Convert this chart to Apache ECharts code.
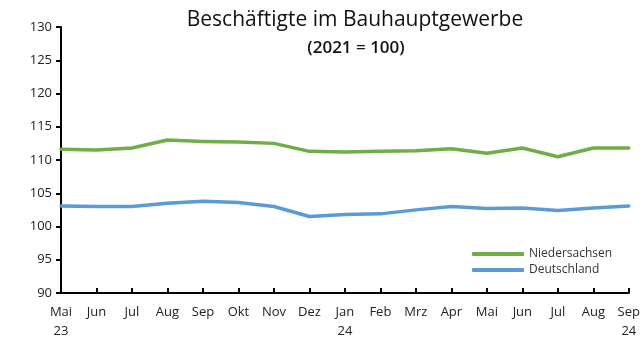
<!DOCTYPE html>
<html>
<head>
<meta charset="utf-8">
<script src="https://cdn.jsdelivr.net/npm/echarts@6/dist/echarts.min.js"></script>
<style>
  html, body { margin: 0; padding: 0; background: #fff; }
  #chart { width: 643px; height: 342px; }
</style>
</head>
<body>
<div id="chart"></div>
<script>
// Monthly employment index, construction main trade (2021 = 100)
const months = ['Mai\n23', 'Jun', 'Jul', 'Aug', 'Sep', 'Okt', 'Nov', 'Dez',
                'Jan\n24', 'Feb', 'Mrz', 'Apr', 'Mai', 'Jun', 'Jul', 'Aug', 'Sep\n24'];
const niedersachsen = [111.6, 111.5, 111.8, 113.0, 112.8, 112.7, 112.5, 111.3,
                       111.2, 111.3, 111.4, 111.7, 111.0, 111.8, 110.5, 111.8, 111.8];
const deutschland = [103.1, 103.0, 103.0, 103.5, 103.8, 103.6, 103.0, 101.5,
                     101.8, 101.9, 102.5, 103.0, 102.7, 102.8, 102.4, 102.8, 103.1];
const yTicks = { min: 90, max: 130, step: 5 };

const FONT = '"Open Sans", "Noto Sans", sans-serif';
const chart = echarts.init(document.getElementById('chart'), null, { renderer: 'canvas' });

chart.setOption({
  animation: false,
  backgroundColor: '#ffffff',
  title: [
    {
      text: 'Beschäftigte im Bauhauptgewerbe',
      left: 350, top: 5, textAlign: 'center',
      textStyle: { fontFamily: FONT, fontSize: 21, fontWeight: 'normal', color: '#111' }
    },
    {
      text: '(2021 = 100)',
      left: 351, top: 35, textAlign: 'center',
      textStyle: { fontFamily: FONT, fontSize: 17, fontWeight: 600, color: '#111' }
    }
  ],
  legend: {
    orient: 'vertical',
    left: 467, top: 243,
    itemWidth: 52, itemHeight: 4, itemGap: 4,
    icon: 'roundRect',
    textStyle: { fontFamily: FONT, fontSize: 12, color: '#333' },
    data: ['Niedersachsen', 'Deutschland']
  },
  grid: { left: 61, right: 14, top: 27, bottom: 49, containLabel: false },
  xAxis: {
    type: 'category',
    data: months,
    boundaryGap: false,
    axisLine: { lineStyle: { color: '#000', width: 2 } },
    axisTick: { inside: true, length: 5, lineStyle: { color: '#000', width: 2 } },
    axisLabel: {
      interval: 0, margin: 10, lineHeight: 19,
      fontFamily: FONT, fontSize: 13, color: '#222'
    },
    splitLine: { show: false }
  },
  yAxis: {
    type: 'value',
    min: yTicks.min, max: yTicks.max, interval: yTicks.step,
    axisLine: { show: true, lineStyle: { color: '#000', width: 2 } },
    axisTick: { show: true, length: 5, lineStyle: { color: '#000', width: 2 } },
    axisLabel: { margin: 9, fontFamily: FONT, fontSize: 13, color: '#222' },
    splitLine: { show: false }
  },
  series: [
    {
      name: 'Niedersachsen', type: 'line', data: niedersachsen,
      showSymbol: false, symbol: 'none',
      itemStyle: { color: '#70ad47' },
      lineStyle: { color: '#70ad47', width: 3.5, cap: 'round', join: 'round' }
    },
    {
      name: 'Deutschland', type: 'line', data: deutschland,
      showSymbol: false, symbol: 'none',
      itemStyle: { color: '#5b9bd5' },
      lineStyle: { color: '#5b9bd5', width: 3.5, cap: 'round', join: 'round' }
    }
  ]
});
</script>
</body>
</html>
